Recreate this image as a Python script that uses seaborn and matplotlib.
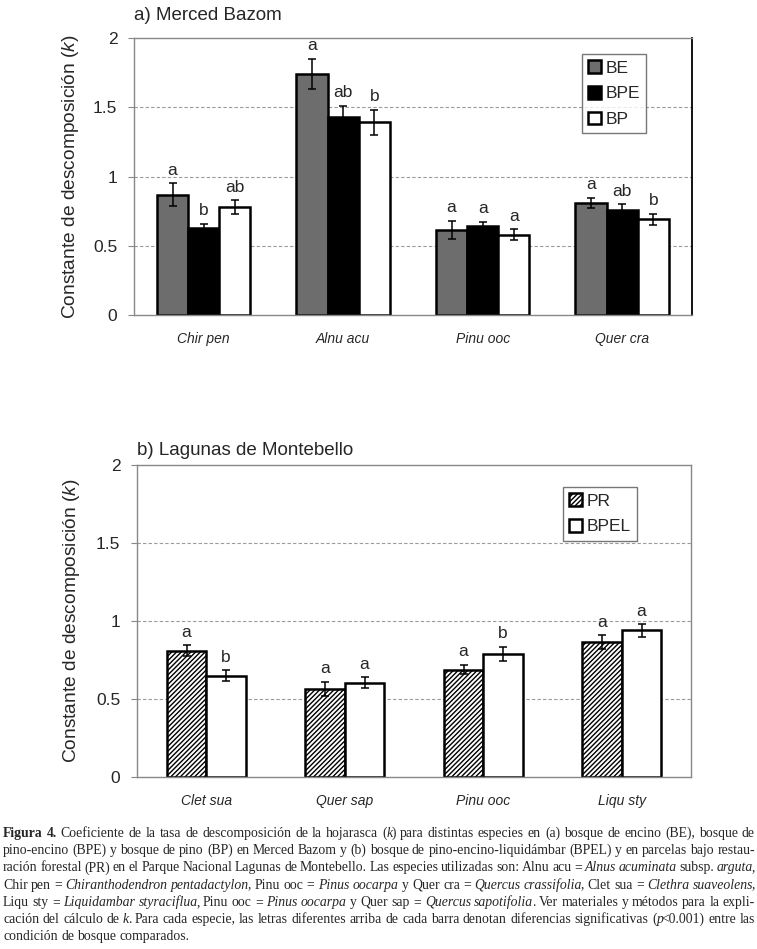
import pandas as pd
import seaborn as sns
import matplotlib
matplotlib.use("Agg")
import matplotlib.pyplot as plt
from matplotlib.ticker import FixedLocator

# panel a) Merced Bazom
species_a = ["Chir pen", "Alnu acu", "Pinu ooc", "Quer cra"]
forests_a = ["BE", "BPE", "BP"]
k_BE = [0.87, 1.74, 0.615, 0.81]
k_BPE = [0.63, 1.43, 0.645, 0.76]
k_BP = [0.78, 1.39, 0.58, 0.69]
se_BE = [0.08, 0.11, 0.065, 0.035]
se_BPE = [0.03, 0.08, 0.03, 0.04]
se_BP = [0.05, 0.09, 0.04, 0.04]
let_BE = ["a", "a", "a", "a"]
let_BPE = ["b", "ab", "a", "ab"]
let_BP = ["ab", "b", "a", "b"]

# panel b) Lagunas de Montebello
species_b = ["Clet sua", "Quer sap", "Pinu ooc", "Liqu sty"]
forests_b = ["PR", "BPEL"]
k_PR = [0.81, 0.565, 0.69, 0.865]
k_BPEL = [0.65, 0.605, 0.79, 0.94]
se_PR = [0.035, 0.045, 0.03, 0.045]
se_BPEL = [0.035, 0.035, 0.045, 0.04]
let_PR = ["a", "a", "a", "a"]
let_BPEL = ["b", "a", "b", "a"]

y_ticks = [0, 0.5, 1, 1.5, 2]
y_tick_labels = ["0", "0.5", "1", "1.5", "2"]

title_a = "a) Merced Bazom"
title_b = "b) Lagunas de Montebello"
ylab = "Constante de descomposición ($\\mathit{k}$)"

caption_lines = [
    [("Figura 4.", "b"), (" Coeficiente de la tasa de descomposición de la hojarasca (", "r"), ("k", "i"),
     (") para distintas especies en (a) bosque de encino (BE), bosque de", "r")],
    [("pino-encino (BPE) y bosque de pino (BP) en Merced Bazom  y (b) bosque de pino-encino-liquidámbar (BPEL) y en parcelas bajo restau-", "r")],
    [("ración forestal (PR) en el Parque Nacional Lagunas de Montebello. Las especies utilizadas son: Alnu acu = ", "r"),
     ("Alnus acuminata", "i"), (" subsp. ", "r"), ("arguta", "i"), (",", "r")],
    [("Chir pen = ", "r"), ("Chiranthodendron pentadactylon", "i"), (", Pinu ooc = ", "r"), ("Pinus oocarpa", "i"),
     (" y Quer cra = ", "r"), ("Quercus crassifolia", "i"), (", Clet sua = ", "r"), ("Clethra suaveolens", "i"), (",", "r")],
    [("Liqu sty = ", "r"), ("Liquidambar styraciflua", "i"), (", Pinu ooc = ", "r"), ("Pinus oocarpa", "i"),
     (" y Quer sap = ", "r"), ("Quercus sapotifolia", "i"), (". Ver materiales y métodos para la expli-", "r")],
    [("cación del cálculo de ", "r"), ("k", "i"),
     (". Para cada especie, las letras diferentes arriba de cada barra denotan diferencias significativas (", "r"),
     ("p", "i"), ("<0.001) entre las", "r")],
    [("condición de bosque comparados.", "r")],
]

sns.set_style("white")
plt.rcParams["font.family"] = ["Liberation Sans", "DejaVu Sans"]
plt.rcParams["mathtext.fontset"] = "custom"
plt.rcParams["mathtext.rm"] = "Liberation Sans"
plt.rcParams["mathtext.it"] = "Liberation Sans:italic"
plt.rcParams["hatch.linewidth"] = 1.0

fig = plt.figure(figsize=(7.57, 9.49), dpi=100)
ax_a = fig.add_axes([0.177, 0.668, 0.737, 0.292])
ax_b = fig.add_axes([0.181, 0.181, 0.732, 0.329])

df_a = pd.DataFrame({
    "especie": species_a * 3,
    "bosque": [f for f in forests_a for _ in species_a],
    "k": k_BE + k_BPE + k_BP,
})
df_b = pd.DataFrame({
    "especie": species_b * 2,
    "bosque": [f for f in forests_b for _ in species_b],
    "k": k_PR + k_BPEL,
})


def draw_panel(ax, df, species, forests, colors, errs, letters, width, hatches):
    sns.barplot(data=df, x="especie", y="k", hue="bosque", order=species, hue_order=forests,
                palette=colors, saturation=1, width=width, errorbar=None,
                edgecolor="black", linewidth=1.8, legend=False, ax=ax)
    bars = list(ax.containers)
    for cont, err, lets, hatch in zip(bars, errs, letters, hatches):
        xs = [b.get_x() + b.get_width() / 2 for b in cont]
        ys = [b.get_height() for b in cont]
        if hatch:
            for b in cont:
                b.set_hatch(hatch)
        ax.errorbar(xs, ys, yerr=err, fmt="none", ecolor="black", elinewidth=1.1,
                    capsize=3.2, capthick=1.1, zorder=5)
        for x, y, e, l in zip(xs, ys, err, lets):
            ax.annotate(l, (x, y + e), xytext=(0, 4), textcoords="offset points",
                        ha="center", va="bottom", fontsize=12.5)
    ax.set_ylim(0, 2)
    ax.set_xlim(-0.5, len(species) - 0.5)
    ax.yaxis.set_major_locator(FixedLocator(y_ticks))
    ax.set_yticklabels(y_tick_labels, fontsize=12.5)
    ax.set_xticks(range(len(species)))
    ax.set_xticklabels(species, fontsize=10, style="italic")
    ax.xaxis.set_minor_locator(FixedLocator([i - 0.5 for i in range(len(species) + 1)]))
    ax.tick_params(axis="x", which="major", length=0, pad=12)
    ax.tick_params(axis="x", which="minor", length=5, color="#888888", direction="out")
    ax.tick_params(axis="y", length=4, color="#888888", direction="out", pad=8, left=True)
    for yv in y_ticks[1:-1]:
        ax.axhline(yv, color="#9a9a9a", lw=0.8, ls=(0, (3, 2)), zorder=0)
    for s in ax.spines.values():
        s.set_color("#888888")
        s.set_linewidth(1.0)
    ax.set_xlabel("")
    ax.set_ylabel(ylab, fontsize=13.8)
    return bars


bars_a = draw_panel(ax_a, df_a, species_a, forests_a, ["#6d6d6d", "#000000", "#ffffff"],
                    [se_BE, se_BPE, se_BP], [let_BE, let_BPE, let_BP], 0.67, [None, None, None])
bars_b = draw_panel(ax_b, df_b, species_b, forests_b, ["#ffffff", "#ffffff"],
                    [se_PR, se_BPEL], [let_PR, let_BPEL], 0.57, ["///////", None])

ax_a.spines["right"].set_color("black")
ax_a.spines["right"].set_linewidth(1.3)
ax_a.yaxis.set_label_coords(-0.095, 0.5)
ax_b.yaxis.set_label_coords(-0.099, 0.5)

ax_a.text(0, 1.065, title_a, transform=ax_a.transAxes, fontsize=13.5, ha="left", va="baseline")
ax_b.text(0, 1.032, title_b, transform=ax_b.transAxes, fontsize=13.5, ha="left", va="baseline")

leg_kw = dict(loc="upper left", fontsize=12.5, frameon=True, fancybox=False, borderaxespad=0,
              handlelength=0.75, handleheight=0.75, handletextpad=0.25, labelspacing=0.6,
              borderpad=0.35, edgecolor="#555555")
lg = ax_a.legend(handles=[c.patches[0] for c in bars_a], labels=forests_a,
                 bbox_to_anchor=(0.803, 0.942), **leg_kw)
lg.get_frame().set_linewidth(1.0)
lg = ax_b.legend(handles=[c.patches[0] for c in bars_b], labels=forests_b,
                 bbox_to_anchor=(0.769, 0.929), **leg_kw)
lg.get_frame().set_linewidth(1.0)

# justified caption
fig.canvas.draw()
renderer = fig.canvas.get_renderer()
W, H = fig.get_size_inches() * fig.dpi
styles = {"r": {}, "i": {"style": "italic"}, "b": {"weight": "bold"}}
cap_size = 9.9
space_w = 0.25 * cap_size * fig.dpi / 72
left_px, right_px = 3, 755


def split_words(segments):
    words = [[]]
    for txt, sty in segments:
        for i, p in enumerate(txt.split(" ")):
            if i > 0:
                words.append([])
            if p:
                words[-1].append((p, sty))
    return [w for w in words if w]


for n, line in enumerate(caption_lines):
    words = split_words(line)
    placed, widths = [], []
    for word in words:
        pieces = []
        for j, (txt, sty) in enumerate(word):
            t = fig.text(0, 0, txt, va="baseline", ha="left", fontsize=cap_size,
                         family="Liberation Serif", **styles[sty])
            w = t.get_window_extent(renderer).width
            if sty == "i" and j < len(word) - 1:
                w -= 1.5
            pieces.append((t, w))
        placed.append(pieces)
        widths.append(sum(w for _, w in pieces))
    if n < len(caption_lines) - 1:
        gap = (right_px - left_px - sum(widths)) / (len(words) - 1)
    else:
        gap = space_w
    x = left_px
    y = 1 - (837 + n * 17.2) / H
    for pieces in placed:
        for t, w in pieces:
            t.set_position((x / W, y))
            x += w
        x += gap

fig.savefig("out.png", dpi=100)
